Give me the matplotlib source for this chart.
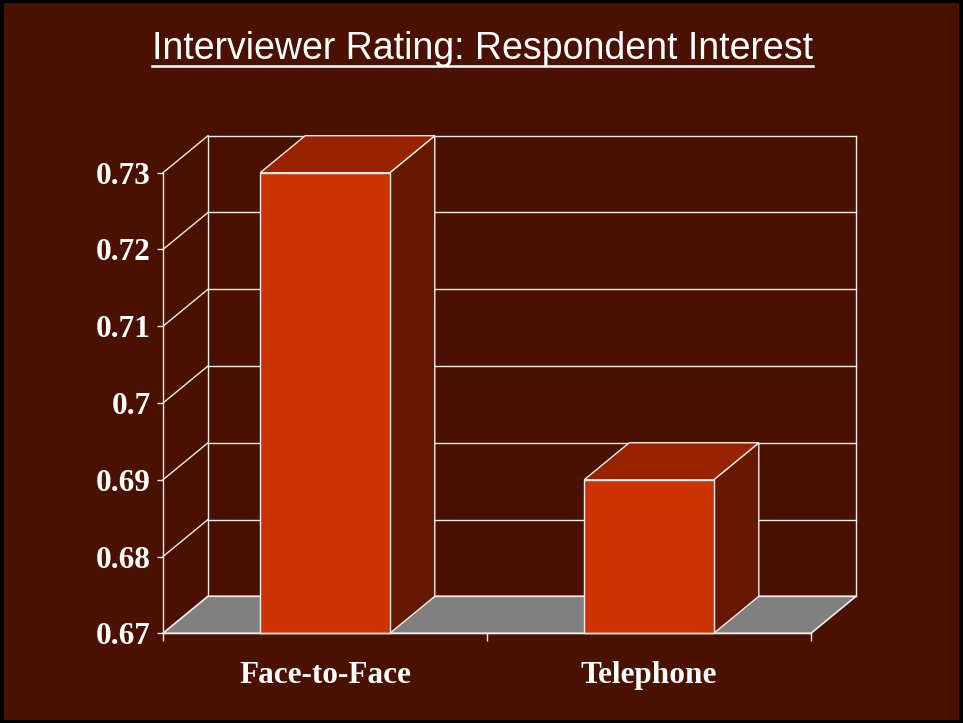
import matplotlib
matplotlib.use("Agg")
import matplotlib.pyplot as plt
from matplotlib.patches import Polygon, Rectangle
from matplotlib.lines import Line2D
import numpy as np

# ---- data ----
categories = ["Face-to-Face", "Telephone"]
ratings = [0.73, 0.69]
y_ticks = [0.67, 0.68, 0.69, 0.70, 0.71, 0.72, 0.73]
y_tick_labels = ["0.67", "0.68", "0.69", "0.7", "0.71", "0.72", "0.73"]
title_text = "Interviewer Rating: Respondent Interest"

# ---- style ----
BG = "#4A1000"
FRONT = "#CC3300"
TOP = "#992200"
SIDE = "#661800"
FLOOR = "#808080"
LINE = "#F2ECEA"
TEXT = "#FFFFFF"
DEPTH_PX = np.array([45.0, 37.0])   # oblique depth of the 3-D box, in pixels
BAR_WIDTH = 0.4

W, H = 963, 723
fig = plt.figure(figsize=(W / 100, H / 100), dpi=100, facecolor="black")
fig.patches.append(Rectangle((4 / W, 3 / H), (W - 8) / W, (H - 6) / H,
                             transform=fig.transFigure, facecolor=BG,
                             edgecolor="none", zorder=-10))

ax = fig.add_axes([163 / W, (H - 633.3) / H, (811 - 163) / W, (633.3 - 172.7) / H])
ax.set_zorder(5)
ax.set_facecolor("none")
ax.set_xlim(-0.5, len(categories) - 0.5)
ax.set_ylim(y_ticks[0], y_ticks[-1])
for s in ("top", "right"):
    ax.spines[s].set_visible(False)
for s in ("left", "bottom"):
    ax.spines[s].set_color(LINE)
    ax.spines[s].set_linewidth(1.0)
    ax.spines[s].set_zorder(6)

# depth offset expressed in data units
base = ax.transData.transform((0, y_ticks[0]))
dx, dy = ax.transData.inverted().transform(base + DEPTH_PX) - np.array([0, y_ticks[0]])

x0, x1 = ax.get_xlim()
y0, y1 = ax.get_ylim()

def line(xs, ys, z=2, lw=1.0):
    ax.add_line(Line2D(xs, ys, color=LINE, lw=lw, clip_on=False, zorder=z))

# back wall gridlines and left wall diagonals
for t in y_ticks:
    line([x0 + dx, x1 + dx], [t + dy, t + dy])
    line([x0, x0 + dx], [t, t + dy])
line([x0 + dx, x0 + dx], [y0 + dy, y1 + dy])
line([x1 + dx, x1 + dx], [y0 + dy, y1 + dy])

# floor
ax.add_patch(Polygon([(x0, y0), (x1, y0), (x1 + dx, y0 + dy), (x0 + dx, y0 + dy)],
                     closed=True, facecolor=FLOOR, edgecolor=LINE, lw=1.2,
                     clip_on=False, zorder=3))

# bars
for i, v in enumerate(ratings):
    xl, xr = i - BAR_WIDTH / 2, i + BAR_WIDTH / 2
    ax.add_patch(Polygon([(xr, y0), (xr, v), (xr + dx, v + dy), (xr + dx, y0 + dy)],
                         closed=True, facecolor=SIDE, edgecolor=LINE, lw=1.0,
                         clip_on=False, zorder=4))
    ax.add_patch(Polygon([(xl, v), (xr, v), (xr + dx, v + dy), (xl + dx, v + dy)],
                         closed=True, facecolor=TOP, edgecolor=LINE, lw=1.0,
                         clip_on=False, zorder=4))
    ax.add_patch(Rectangle((xl, y0), BAR_WIDTH, v - y0, facecolor=FRONT,
                           edgecolor=LINE, lw=1.0, clip_on=False, zorder=5))

# axes ticks
ax.set_yticks(y_ticks)
ax.set_yticklabels(y_tick_labels)
ax.tick_params(axis="y", direction="out", length=4.3, width=1.0, color=LINE,
               pad=4.3, labelcolor=TEXT)
for lab in ax.get_yticklabels():
    lab.set_fontfamily("Liberation Serif")
    lab.set_fontweight("bold")
    lab.set_fontsize(22.5)

ax.set_xticks(np.arange(-0.5, len(categories), 1.0))
ax.set_xticklabels([])
ax.tick_params(axis="x", direction="out", length=5.8, width=1.0, color=LINE)

for i, cat in enumerate(categories):
    ax.annotate(cat, xy=(i, y0), xytext=(0, -49.7 * 0.72), textcoords="offset points",
                ha="center", va="baseline", color=TEXT, fontsize=22.5,
                fontfamily="Liberation Serif", fontweight="bold")

# title with underline
title = fig.text(482.5 / W, (H - 59) / H, title_text, ha="center", va="baseline",
                 color=TEXT, fontsize=27, fontfamily="Liberation Sans")
fig.canvas.draw()
bb = title.get_window_extent()
uy = (H - 65.5) / H
fig.lines.append(Line2D([bb.x0 / W, bb.x1 / W], [uy, uy], transform=fig.transFigure,
                        color=TEXT, lw=1.8))

fig.savefig("out.png", dpi=100, facecolor=fig.get_facecolor())
